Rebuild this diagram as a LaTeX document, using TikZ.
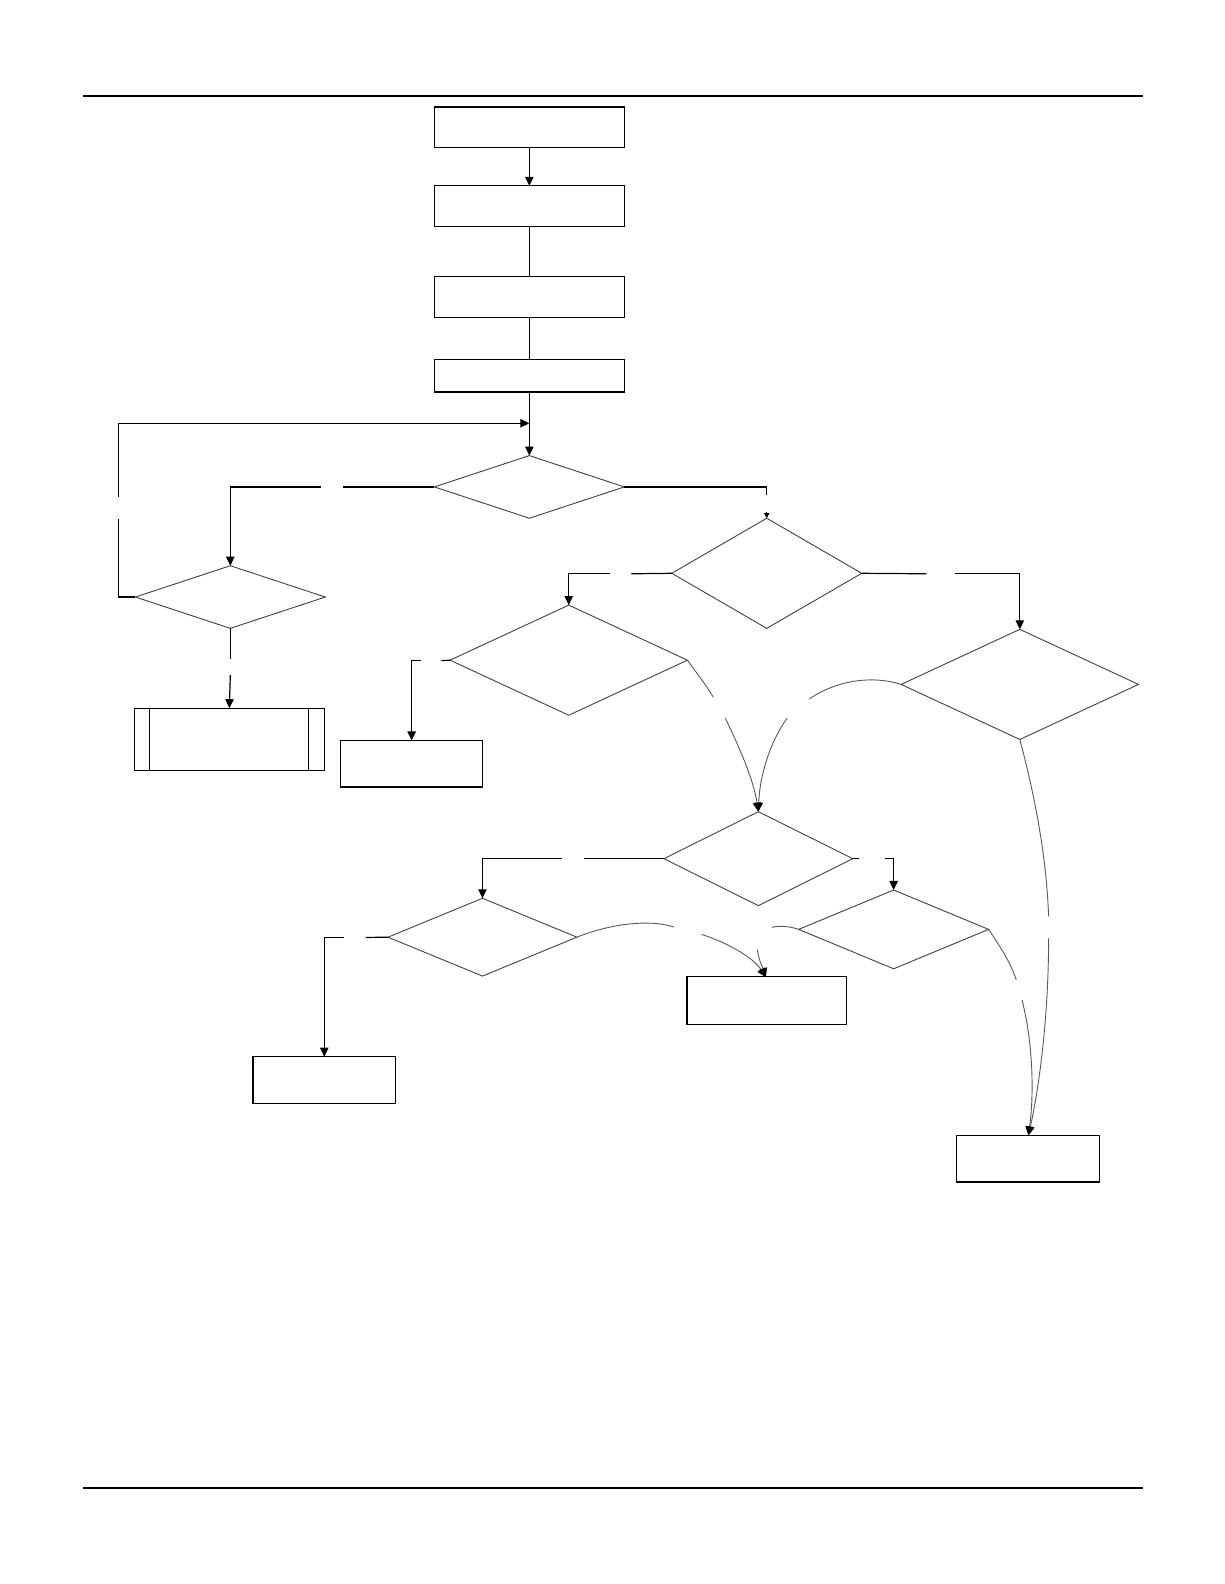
\documentclass[tikz,border=0pt]{standalone}
\usetikzlibrary{shapes.geometric,arrows.meta}
\def\pxu{0.50495pt}
\tikzset{
  box/.style={draw=black, line width=0.6pt, rectangle, inner sep=0pt, outer sep=0pt},
  dia/.style={draw=black!75, line width=0.45pt, shape=diamond, inner sep=0pt, outer sep=0pt},
  sz/.style 2 args={minimum width=#1*\pxu, minimum height=#2*\pxu},
  conn/.style={line width=0.6pt, draw=black},
  arr/.style={-{Triangle[length=4.5pt,width=4.2pt,color=black]}},
  smallarr/.style={-{Triangle[length=2.6pt,width=2.6pt,color=black]}},
  crv/.style={line width=0.45pt, draw=black!65},
  rule/.style={line width=1pt, draw=black}
}
\begin{document}
\begin{tikzpicture}[x=\pxu,y=-\pxu]
\useasboundingbox (0,0) rectangle (1212,1568);
% page rules
\coordinate (hl) at (82,95); \coordinate (hr) at (1131,95);
\coordinate (fl) at (82,1473); \coordinate (fr) at (1131,1473);
\draw[rule] (hl) -- (hr);
\draw[rule] (fl) -- (fr);
% boxes
\node[box, sz={188}{40}] (b1) at (524,126) {};
\node[box, sz={188}{40}] (b2) at (524,204) {};
\node[box, sz={188}{40}] (b3) at (524,294) {};
\node[box, sz={188}{32}] (b4) at (524,372) {};
\node[box, sz={188}{62}] (pp) at (227,732) {};
\draw[line width=0.6pt] ([xshift=15*\pxu]pp.north west) -- ([xshift=15*\pxu]pp.south west);
\draw[line width=0.6pt] ([xshift=-16*\pxu]pp.north east) -- ([xshift=-16*\pxu]pp.south east);
\node[box, sz={141}{46}] (b5) at (407.5,756) {};
\node[box, sz={158}{47}] (b6) at (759,990.5) {};
\node[box, sz={141}{46}] (b7) at (321,1069) {};
\node[box, sz={142}{46}] (b8) at (1017.5,1147) {};
% diamonds
\node[dia, sz={188}{62}] (d1) at (524,482) {};
\node[dia, sz={188}{62}] (d2) at (228,591) {};
\node[dia, sz={235}{109}] (d3) at (563,653.5) {};
\node[dia, sz={188}{109}] (d4) at (759,567.5) {};
\node[dia, sz={235}{109}] (d5) at (1009.5,677.5) {};
\node[dia, sz={187}{93}] (d6) at (750.7,850) {};
\node[dia, sz={187}{77}] (d7) at (477.6,927.7) {};
\node[dia, sz={188}{78}] (d8) at (884.6,920) {};
% straight chain
\draw[conn, arr] (b1) -- (b2);
\draw[conn] (b2) -- (b3);
\draw[conn] (b3) -- (b4);
\draw[conn, arr] (b4) -- (d1);
% loop from d2 back
\coordinate (lpA) at (117,514); \coordinate (lpB) at (117,492);
\coordinate (lpT) at (524,419);
\draw[conn] (d2.west) -- (d2.west -| lpA) -- (lpA);
\draw[conn, arr] (lpB) -- (lpB |- lpT) -- (lpT);
% d1 left to d2
\coordinate (g1a) at (340,482); \coordinate (g1b) at (318,482);
\draw[conn] (d1.west) -- (g1a);
\draw[conn, arr] (g1b) -- (g1b -| d2.north) -- (d2.north);
% d2 down to pp
\coordinate (g2a) at (228,652); \coordinate (g2b) at (228,668);
\draw[conn] (d2.south) -- (g2a);
\draw[conn, arr] (g2b) -- (pp.north);
% d1 right to d4
\coordinate (g3a) at (759,490); \coordinate (g3b) at (759,507);
\draw[conn] (d1.east) -- (d1.east -| g3a) -- (g3a);
\draw[conn, smallarr] (g3b) -- (d4.north);
% d4 left to d3
\coordinate (g4a) at (625,568); \coordinate (g4b) at (604,568);
\draw[conn] (d4.west) -- (g4a);
\draw[conn, arr] (g4b) -- (g4b -| d3.north) -- (d3.north);
% d4 right to d5
\coordinate (g5a) at (917,568); \coordinate (g5b) at (945,568);
\draw[conn] (d4.east) -- (g5a);
\draw[conn, arr] (g5b) -- (g5b -| d5.north) -- (d5.north);
% d3 left to b5
\coordinate (g6a) at (437,654); \coordinate (g6b) at (417,654);
\draw[conn] (d3.west) -- (g6a);
\draw[conn, arr] (g6b) -- (g6b -| b5.north) -- (b5.north);
% d3 right curve to d6
\coordinate (c1a) at (706,690); \coordinate (c1b) at (718,711);
\draw[crv] (d3.east) .. controls (690,667) and (699,678) .. (c1a);
\draw[crv, arr] (c1b) .. controls (732,740) and (746,772) .. (d6.north);
% d5 left curve to d6
\coordinate (c2a) at (801,692); \coordinate (c2b) at (779,711);
\draw[crv] (d5.west) .. controls (866,669) and (830,672) .. (c2a);
\draw[crv, arr] (c2b) .. controls (762,735) and (752,768) .. (d6.north);
% d6 left to d7
\coordinate (g7a) at (578,850); \coordinate (g7b) at (556,850);
\draw[conn] (d6.west) -- (g7a);
\draw[conn, arr] (g7b) -- (g7b -| d7.north) -- (d7.north);
% d6 right to d8
\coordinate (g8a) at (850,850); \coordinate (g8b) at (876,850);
\draw[conn] (d6.east) -- (g8a);
\draw[conn, arr] (g8b) -- (g8b -| d8.north) -- (d8.north);
% d7 left to b7
\coordinate (g9a) at (362,928); \coordinate (g9b) at (341,928);
\draw[conn] (d7.west) -- (g9a);
\draw[conn, arr] (g9b) -- (g9b -| b7.north) -- (b7.north);
% d7 right curve to b6
\coordinate (c3a) at (667,917.6); \coordinate (c3b) at (694.4,925);
\coordinate (b6in) at (758,967.3);
\draw[crv] (d7.east) .. controls (600,916) and (640,909) .. (c3a);
\draw[crv, arr] (c3b) .. controls (720,933) and (746,948) .. (b6in);
% d8 left curve to b6
\coordinate (c4a) at (764,918); \coordinate (c4b) at (749.6,940);
\draw[crv] (d8.west) .. controls (782,917) and (772,916) .. (c4a);
\draw[crv, arr] (c4b) .. controls (751,950) and (755,958) .. (b6in);
% d8 right curve to b8
\coordinate (c5a) at (1006,970); \coordinate (c5b) at (1011.7,990);
\coordinate (b8in) at (1018,1124);
\draw[crv] (d8.east) .. controls (990,937) and (1000,952) .. (c5a);
\draw[crv, arr] (c5b) .. controls (1022,1030) and (1024,1080) .. (b8in);
% d5 bottom curve to b8
\coordinate (c6a) at (1038,907); \coordinate (c6b) at (1038,929);
\draw[crv] (d5.south) .. controls (1025,790) and (1036,850) .. (c6a);
\draw[crv, arr] (c6b) .. controls (1038,1000) and (1030,1070) .. (b8in);
\end{tikzpicture}
\end{document}
